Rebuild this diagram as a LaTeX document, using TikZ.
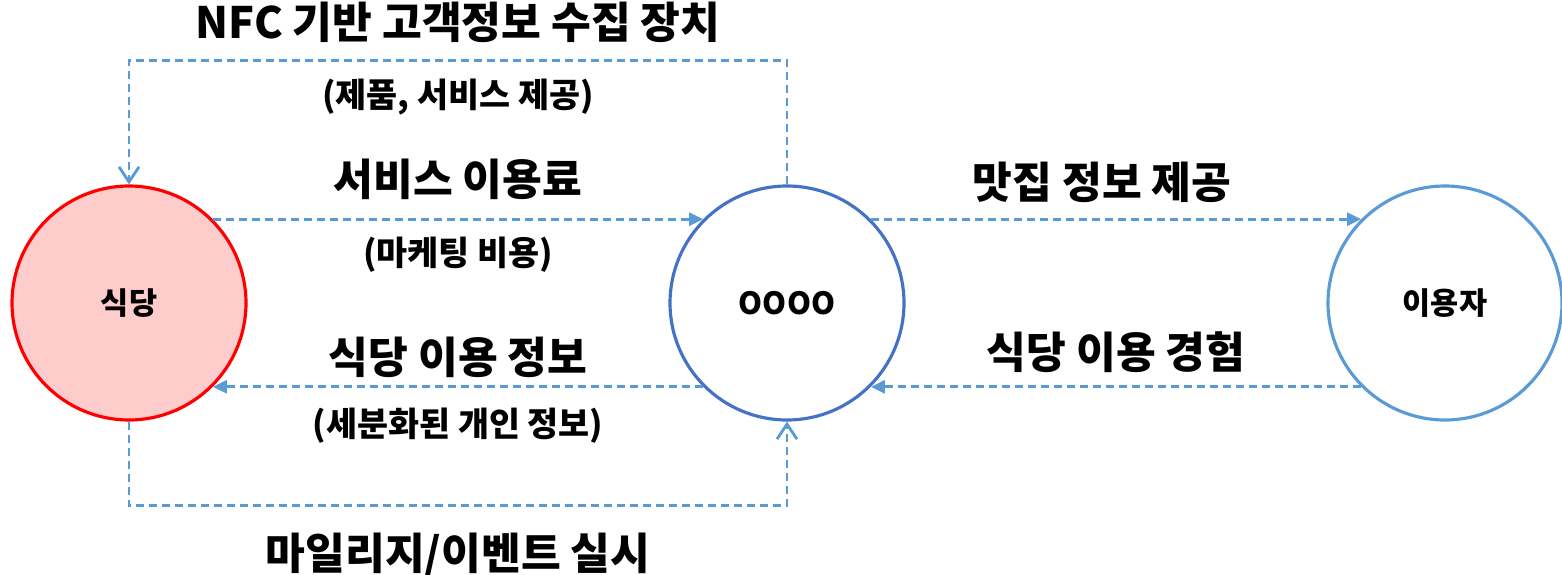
\documentclass[tikz,border=0pt]{standalone}
\usepackage{fontspec}
\setmainfont{Noto Sans CJK KR}
\usetikzlibrary{arrows.meta}
\usetikzlibrary{positioning}
\definecolor{lineblue}{HTML}{5B9BD5}
\definecolor{ringblue}{HTML}{4472C4}
\definecolor{rosefill}{HTML}{FFCCCC}
\begin{document}
\begin{tikzpicture}[semithick,node distance=6.58cm,
					font=\bfseries\fontsize{8.7}{10}\selectfont]
					\tikzstyle{party}=[circle,draw,line width=0.9pt,minimum size=2.34cm,inner sep=0pt]
					\tikzstyle{flow}=[draw=lineblue,line width=0.8pt,dash pattern=on 0.08cm off 0.05cm,
					                  -{Triangle[length=0.14cm,width=0.13cm]}]
					\tikzstyle{wrap}=[draw=lineblue,line width=0.8pt,dash pattern=on 0.08cm off 0.05cm,
					                  -{Straight Barb[length=0.15cm,width=0.2cm]}]
					\tikzstyle{big}=[inner sep=0pt,font=\bfseries\fontsize{12.3}{14}\selectfont]
					\tikzstyle{small}=[inner sep=0pt,font=\bfseries\fontsize{9.6}{11}\selectfont]
					
					\useasboundingbox (0,0) rectangle (15.62,5.74);
					
					\node[party,draw=red,fill=rosefill] (restaurant) at (1.29,2.71) {식당};
					\node[party,draw=ringblue]          (service) [right of=restaurant] {OOOO};
					\node[party,draw=lineblue]          (customer) [right of=service]   {이용자};
					
					% 식당 <-> OOOO <-> 이용자
					\draw[flow] (restaurant.45) -- node[big,above=0.18cm]   {서비스 이용료}
					                               node[small,below=0.16cm] {(마케팅 비용)} (service.135);
					\draw[flow] (service.-135)  -- node[big,above=0.08cm]   {식당 이용 정보}
					                               node[small,below=0.2cm] {(세분화된 개인 정보)} (restaurant.-45);
					\draw[flow] (service.45)    -- node[big,above=0.15cm,xshift=-0.14cm]  {맛집 정보 제공} (customer.135);
					\draw[flow] (customer.-135) -- node[big,above=0.13cm]  {식당 이용 경험} (service.-45);
					
					% loops
					\draw[wrap] (service.north) -- ++(0,1.24) -| node[pos=0.25,big,above=0.16cm] {NFC 기반 고객정보 수집 장치}
					                                           node[pos=0.25,small,below=0.17cm] {(제품, 서비스 제공)} (restaurant.north);
					\draw[wrap] (restaurant.south) -- ++(0,-0.84) -| node[pos=0.25,big,below=0.26cm] {마일리지/이벤트 실시} (service.south);
\end{tikzpicture}
\end{document}
